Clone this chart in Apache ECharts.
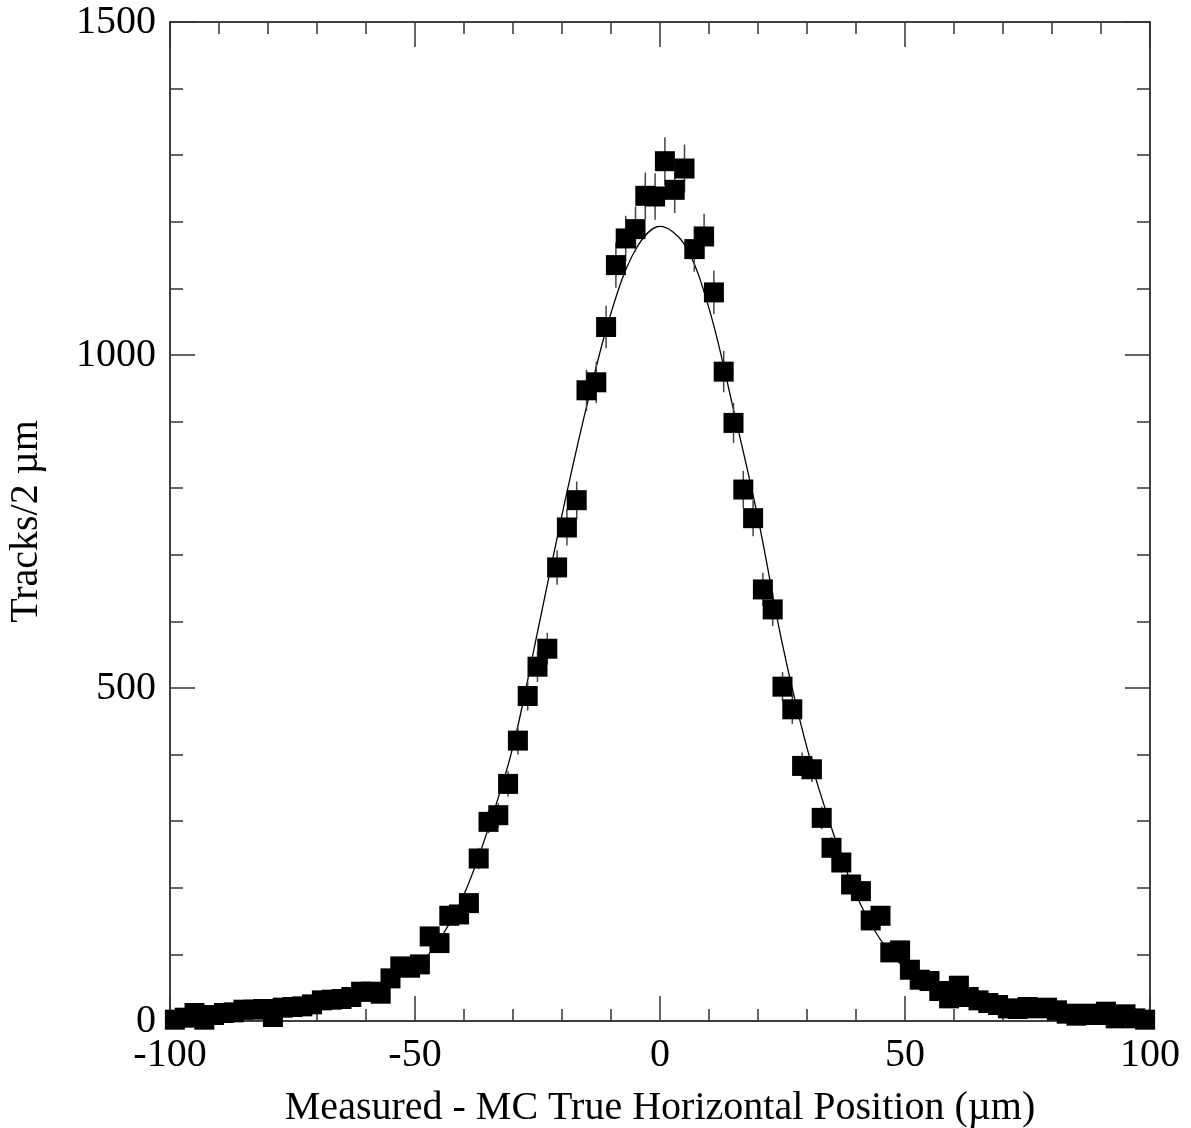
<!DOCTYPE html>
<html>
<head>
<meta charset="utf-8">
<script src="https://cdn.jsdelivr.net/npm/echarts@6/dist/echarts.min.js"></script>
<style>
html,body{margin:0;padding:0;background:#fff;}
#chart{width:1191px;height:1128px;}
</style>
</head>
<body>
<div id="chart"></div>
<script>
// bin centres (um) and track counts per 2 um bin
var binX = [-99,-97,-95,-93,-91,-89,-87,-85,-83,-81,-79,-77,-75,-73,-71,-69,-67,-65,-63,-61,
    -59,-57,-55,-53,-51,-49,-47,-45,-43,-41,-39,-37,-35,-33,-31,-29,-27,-25,-23,-21,
    -19,-17,-15,-13,-11,-9,-7,-5,-3,-1,1,3,5,7,9,11,13,15,17,19,
    21,23,25,27,29,31,33,35,37,39,41,43,45,47,49,51,53,55,57,59,
    61,63,65,67,69,71,73,75,77,79,81,83,85,87,89,91,93,95,97,99];
var counts = [2,5,12,2,9,12,13,17,17,18,6,20,21,22,25,31,32,33,36,44,
    44,41,64,82,80,85,127,117,158,160,177,244,299,309,356,421,488,532,559,681,
    741,782,947,959,1042,1135,1175,1189,1239,1238,1291,1248,1280,1159,1178,1094,975,898,798,755,
    648,618,502,468,383,378,305,260,238,205,195,151,158,103,106,77,62,60,45,34,
    53,36,31,27,24,19,18,21,19,20,16,11,8,11,9,14,4,10,4,2];
var errs = [1,2,3,1,3,3,4,4,4,4,2,4,5,5,5,6,6,6,6,7,
    7,6,8,9,9,9,11,11,13,13,13,16,17,18,19,21,22,23,24,26,
    27,28,31,31,32,34,34,34,35,35,36,35,36,34,34,33,31,30,28,27,
    25,25,22,22,20,19,17,16,15,14,14,12,13,10,10,9,8,8,7,6,
    7,6,6,5,5,4,4,5,4,4,4,3,3,3,3,4,2,3,2,1];
// fitted curve
var fitX = [-50,-45,-40,-35,-30,-25,-20,-15,-10,-5,0,5,10,15,20,25,30,35,40,45,50];
var fitY = [76,122,190,290,412,584,760,922,1063,1158,1193,1166,1070,918,755,565,410,290,190,122,78];

var xTicks = [-100,-50,0,50,100];
var yTicks = [0,500,1000,1500];

var pts = [], bars = [], fit = [];
for (var i = 0; i < binX.length; i++) {
    pts.push([binX[i], counts[i]]);
    bars.push([binX[i], counts[i], errs[i]]);
}
for (var j = 0; j < fitX.length; j++) {
    fit.push([fitX[j], fitY[j]]);
}

var font = 'Liberation Serif, Times New Roman, serif';
var lineCol = '#000';
var tickCol = '#333';

function plain(v) { return String(v); }

function xAx(pos, labels) {
    return {
        type: 'value', position: pos, min: -100, max: 100, interval: 50,
        axisLine: {show: true, onZero: false, lineStyle: {color: lineCol, width: 1.5}},
        axisTick: {show: true, inside: true, length: 25, lineStyle: {color: tickCol, width: 1.5}},
        minorTick: {show: true, splitNumber: 5, length: 12, lineStyle: {color: tickCol, width: 1.5}},
        axisLabel: {show: labels, color: '#000', fontFamily: font, fontSize: 40, margin: 14,
            customValues: xTicks, formatter: plain},
        splitLine: {show: false}
    };
}
function yAx(pos, labels) {
    return {
        type: 'value', position: pos, min: 0, max: 1500, interval: 500,
        axisLine: {show: true, onZero: false, lineStyle: {color: lineCol, width: 1.5}},
        axisTick: {show: true, inside: true, length: 25, lineStyle: {color: tickCol, width: 1.5}},
        minorTick: {show: true, splitNumber: 5, length: 13, lineStyle: {color: tickCol, width: 1.5}},
        axisLabel: {show: labels, color: '#000', fontFamily: font, fontSize: 40, margin: 14,
            customValues: yTicks, formatter: plain},
        splitLine: {show: false}
    };
}

var bottom = xAx('bottom', true);
bottom.name = 'Measured - MC True Horizontal Position (\u00b5m)';
bottom.nameLocation = 'middle';
bottom.nameGap = 67;
bottom.nameTextStyle = {color: '#000', fontFamily: font, fontSize: 40};

var left = yAx('left', true);
left.name = 'Tracks/2 \u00b5m';
left.nameLocation = 'middle';
left.nameRotate = 90;
left.nameGap = 124;
left.nameTextStyle = {color: '#000', fontFamily: font, fontSize: 40};

var myChart = echarts.init(document.getElementById('chart'));
var option = {
    animation: false,
    backgroundColor: '#fff',
    grid: {left: 170, right: 41, top: 22, bottom: 107, outerBoundsMode: 'none'},
    xAxis: [bottom, xAx('top', false)],
    yAxis: [left, yAx('right', false)],
    series: [
        {
            type: 'line', data: fit, xAxisIndex: 0, yAxisIndex: 0,
            smooth: 0.35, showSymbol: false, z: 2,
            lineStyle: {color: '#000', width: 1.3}
        },
        {
            type: 'custom', data: bars, xAxisIndex: 0, yAxisIndex: 0, z: 3,
            renderItem: function (params, api) {
                var x = api.value(0), y = api.value(1), e = api.value(2);
                var hi = api.coord([x, y + e]);
                var lo = api.coord([x, y - e]);
                return {
                    type: 'line',
                    shape: {x1: hi[0], y1: hi[1], x2: lo[0], y2: lo[1]},
                    style: {stroke: '#444', lineWidth: 1.5}
                };
            }
        },
        {
            type: 'scatter', data: pts, xAxisIndex: 0, yAxisIndex: 0, z: 4,
            symbol: 'rect', symbolSize: 20,
            itemStyle: {color: '#000', opacity: 1}
        }
    ]
};
myChart.setOption(option);
</script>
</body>
</html>
